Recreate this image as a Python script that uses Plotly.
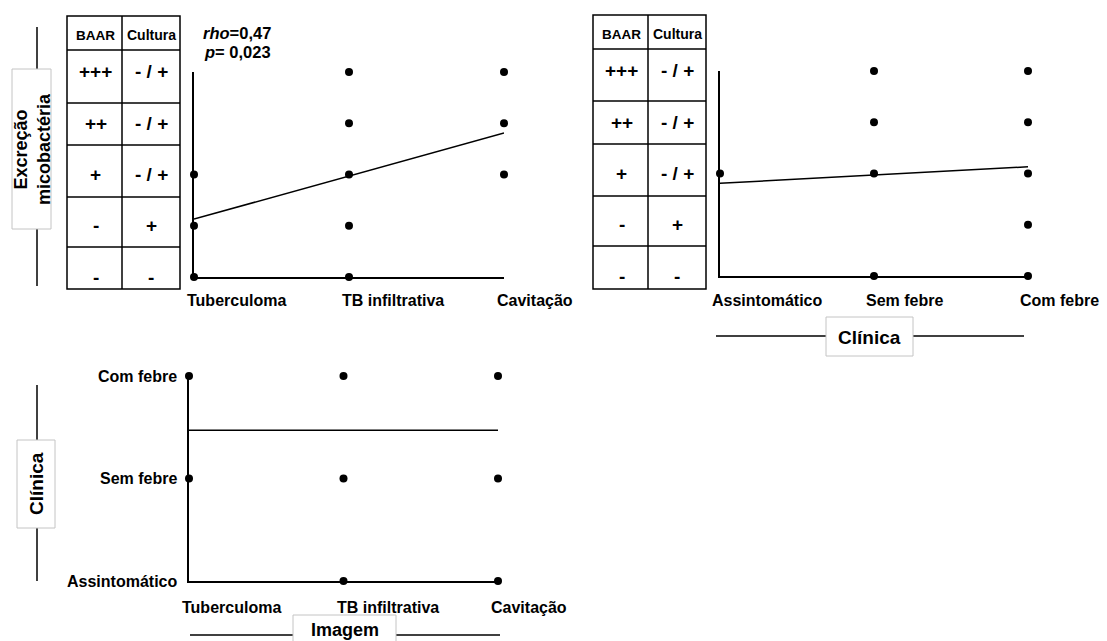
import plotly.graph_objects as go

W, H = 1107, 641

# ---- data -------------------------------------------------------------
imagem = ["Tuberculoma", "TB infiltrativa", "Cavitação"]
clinica = ["Assintomático", "Sem febre", "Com febre"]

# excretion levels 0..4 (row labels of the BAAR / Cultura table)
baar = ["-", "-", "+", "++", "+++"]
cultura = ["-", "+", "- / +", "- / +", "- / +"]

# Imagem x Excreção
p1_x = ["Tuberculoma", "Tuberculoma", "Tuberculoma",
        "TB infiltrativa", "TB infiltrativa", "TB infiltrativa", "TB infiltrativa", "TB infiltrativa",
        "Cavitação", "Cavitação", "Cavitação"]
p1_y = [0, 1, 2, 0, 1, 2, 3, 4, 2, 3, 4]
fit1 = [1.13, 2.81]
rho_txt = "0,47"
p_txt = "0,023"

# Clínica x Excreção
p2_x = ["Assintomático",
        "Sem febre", "Sem febre", "Sem febre", "Sem febre",
        "Com febre", "Com febre", "Com febre", "Com febre", "Com febre"]
p2_y = [2, 0, 2, 3, 4, 0, 1, 2, 3, 4]
fit2 = [1.81, 2.13]

# Imagem x Clínica
p3_x = ["Tuberculoma", "Tuberculoma",
        "TB infiltrativa", "TB infiltrativa", "TB infiltrativa",
        "Cavitação", "Cavitação", "Cavitação"]
p3_clin = ["Sem febre", "Com febre",
           "Assintomático", "Sem febre", "Com febre",
           "Assintomático", "Sem febre", "Com febre"]
fit3 = [1.47, 1.47]

# ---- helpers ----------------------------------------------------------
FONT = "Liberation Sans, Arial, sans-serif"


def px(x):
    return x / W


def py(y):
    return 1 - y / H


def bold(size):
    return dict(family=FONT, size=size, color="black", weight="bold")


fig = go.Figure()

dot = dict(color="black", size=8)
fit_line = dict(color="black", width=1.5)

fig.add_trace(go.Scatter(x=p1_x, y=p1_y, mode="markers", marker=dot,
                         cliponaxis=False, xaxis="x", yaxis="y"))
fig.add_trace(go.Scatter(x=[imagem[0], imagem[-1]], y=fit1, mode="lines",
                         line=fit_line, cliponaxis=False, xaxis="x", yaxis="y"))

fig.add_trace(go.Scatter(x=p2_x, y=p2_y, mode="markers", marker=dot,
                         cliponaxis=False, xaxis="x2", yaxis="y2"))
fig.add_trace(go.Scatter(x=[clinica[0], clinica[-1]], y=fit2, mode="lines",
                         line=fit_line, cliponaxis=False, xaxis="x2", yaxis="y2"))

p3_y = [clinica.index(c) for c in p3_clin]
fig.add_trace(go.Scatter(x=p3_x, y=p3_y, mode="markers", marker=dot,
                         cliponaxis=False, xaxis="x3", yaxis="y3"))
fig.add_trace(go.Scatter(x=[imagem[0], imagem[-1]], y=fit3, mode="lines",
                         line=fit_line, cliponaxis=False, xaxis="x3", yaxis="y3"))

ax = dict(showline=True, linewidth=2.2, linecolor="black", showgrid=False,
          zeroline=False, showticklabels=False, ticks="", fixedrange=True)

layout_axes = dict(
    xaxis=dict(ax, domain=[px(194), px(504)], type="category",
               categoryorder="array", categoryarray=imagem, range=[0, 2], anchor="y"),
    yaxis=dict(ax, domain=[py(277), py(72)], range=[0, 4], anchor="x"),
    xaxis2=dict(ax, domain=[px(720), px(1028)], type="category",
                categoryorder="array", categoryarray=clinica, range=[0, 2], anchor="y2"),
    yaxis2=dict(ax, domain=[py(276), py(71)], range=[0, 4], anchor="x2"),
    xaxis3=dict(ax, domain=[px(189), px(498)], type="category",
                categoryorder="array", categoryarray=imagem, range=[0, 2], anchor="y3"),
    yaxis3=dict(ax, domain=[py(581), py(376)], range=[0, 2], anchor="x3"),
)

shapes = []
annotations = []


def line(x0, y0, x1, y1, w=1.5):
    shapes.append(dict(type="line", xref="paper", yref="paper",
                       x0=px(x0), y0=py(y0), x1=px(x1), y1=py(y1),
                       line=dict(color="black", width=w)))


def box(x0, y0, x1, y1, color="black", w=1.5, fill=None):
    shapes.append(dict(type="rect", xref="paper", yref="paper",
                       x0=px(x0), y0=py(y0), x1=px(x1), y1=py(y1),
                       line=dict(color=color, width=w),
                       fillcolor=fill if fill else "rgba(0,0,0,0)"))


def text(t, x, y, size, xanchor="center", angle=0, **kw):
    d = dict(text=t, showarrow=False, font=bold(size), xanchor=xanchor,
             yanchor="middle", textangle=angle)
    d.update(kw)
    d.setdefault("xref", "paper")
    d.setdefault("yref", "paper")
    d["x"] = x
    d["y"] = y
    annotations.append(d)


# ---- BAAR / Cultura tables (rows aligned with excretion levels) --------
def table(x0, xm, x1, y0, y1, dividers, header_y, yref):
    box(x0, y0, x1, y1)
    line(xm, y0, xm, y1)
    for d in dividers:
        line(x0, d, x1, d)
    text("BAAR", px((x0 + xm) / 2 + 1), py(header_y), 13.5)
    text("Cultura", px((xm + x1) / 2), py(header_y), 14)
    for lvl, (b, c) in enumerate(zip(baar, cultura)):
        text(b, px((x0 + xm) / 2 + 1), lvl, 19, yref=yref)
        text(c, px((xm + x1) / 2), lvl, 19, yref=yref)


table(67, 122, 180, 16, 289, [50, 103, 145, 197, 247], 35, "y")
table(593, 648, 706, 15, 289, [49, 101, 144, 196, 246], 34, "y2")

# ---- category labels -------------------------------------------------
for c in imagem:
    text(c, c, 0, 16, xanchor="left", xref="x", yref="y domain", xshift=-9, yshift=-23)
for c in clinica:
    text(c, c, 0, 16, xanchor="left", xref="x2", yref="y2 domain", xshift=-10, yshift=-24)
for c in imagem:
    text(c, c, 0, 16, xanchor="left", xref="x3", yref="y3 domain", xshift=-9, yshift=-26)
for i, c in enumerate(clinica):
    text(c, 0, i, 16, xanchor="right", xref="x3 domain", yref="y3", xshift=-10)

# ---- correlation statistic -------------------------------------------
text("<i>rho</i>=" + rho_txt, px(201), py(33), 16.5, xanchor="left")
text("<i>p</i>= " + p_txt, px(202), py(52), 16.5, xanchor="left")

# ---- framed axis titles ---------------------------------------------
GREY = "#c4c4c4"

line(37, 27, 37, 286)
box(12, 69, 51, 229, color=GREY, w=1, fill="white")
text("Excreção<br>micobactéria", px(33), py(149), 18, angle=-90)

line(716, 336, 1024, 336)
box(826, 317, 913, 356, color=GREY, w=1, fill="white")
text("Clínica", px(869.5), py(337), 19)

line(37, 385, 37, 581)
box(17, 440, 55, 528, color=GREY, w=1, fill="white")
text("Clínica", px(36), py(484), 19, angle=-90)

line(190, 635, 500, 635)
box(293, 615, 396, 655, color=GREY, w=1, fill="white")
text("Imagem", px(345), py(630), 18)

fig.update_layout(
    width=W, height=H, autosize=False,
    margin=dict(l=0, r=0, t=0, b=0),
    paper_bgcolor="white", plot_bgcolor="white",
    showlegend=False,
    shapes=shapes, annotations=annotations,
    **layout_axes,
)

fig.write_html("out.html")
